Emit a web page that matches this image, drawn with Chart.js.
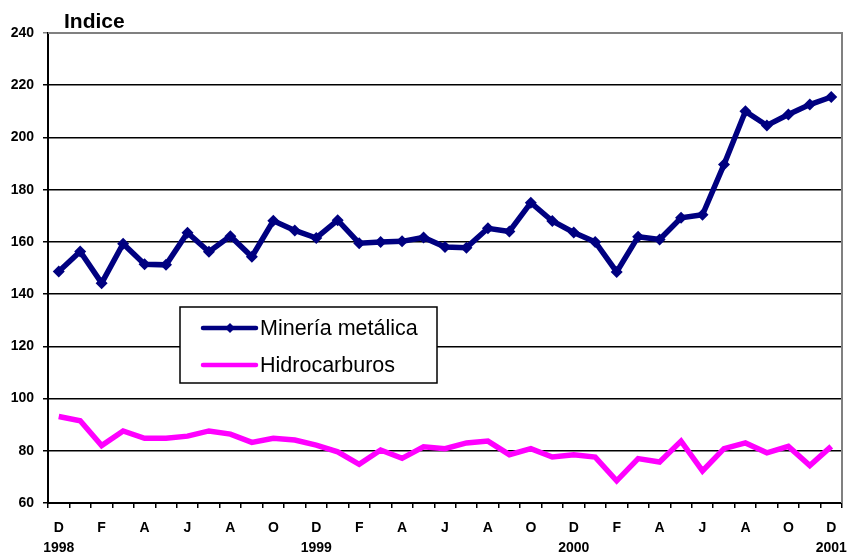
<!DOCTYPE html>
<html>
<head>
<meta charset="utf-8">
<script src="https://cdn.jsdelivr.net/npm/chart.js@4/dist/chart.umd.min.js"></script>
<style>
  html, body { margin: 0; padding: 0; background: #fff; }
  #wrap { width: 848px; height: 554px; position: relative; }
</style>
</head>
<body>
<div id="wrap"><canvas id="grafica"></canvas></div>
<script>
// meses de dic-1997 a dic-2000 (una letra por mes)
const meses = ['D','E','F','M','A','M','J','J','A','S','O','N',
               'D','E','F','M','A','M','J','J','A','S','O','N',
               'D','E','F','M','A','M','J','J','A','S','O','N','D'];
// años debajo de cada diciembre
const anios = { 0: '1998', 12: '1999', 24: '2000', 36: '2001' };

const mineria = [148.7, 156.3, 144.2, 159.3, 151.4, 151.2, 163.5, 156.2, 162.2, 154.3,
                 168.1, 164.4, 161.5, 168.3, 159.5, 160, 160.2, 161.7, 158, 157.8,
                 165.2, 164, 175, 168, 163.6, 160, 148.5, 162, 160.9, 169.2,
                 170.4, 189.6, 210, 204.6, 208.8, 212.6, 215.5];

const hidrocarburos = [93.1, 91.5, 82, 87.6, 84.8, 84.8, 85.6, 87.6, 86.4, 83.2,
                       84.8, 84.1, 82.2, 79.6, 74.8, 80.3, 77.1, 81.5, 80.8, 83,
                       83.7, 78.5, 80.8, 77.6, 78.5, 77.6, 68.5, 77, 75.7, 83.7,
                       72.3, 80.8, 83, 79.2, 81.7, 74.3, 81.7];

const yTicks = [60, 80, 100, 120, 140, 160, 180, 200, 220, 240];

const fuente = "'Liberation Sans', Arial, sans-serif";

// leyenda dibujada dentro del area del grafico
const leyenda = {
    id: 'leyenda',
    afterDraw(chart) {
        const ctx = chart.ctx;
        const x = 180, y = 307, w = 257, h = 76;
        ctx.save();
        ctx.fillStyle = '#fff';
        ctx.fillRect(x, y, w, h);
        ctx.strokeStyle = '#000';
        ctx.lineWidth = 1.5;
        ctx.strokeRect(x, y, w, h);
        ctx.font = '21.5px ' + fuente;
        ctx.textBaseline = 'middle';
        chart.data.datasets.forEach((ds, i) => {
            const ly = y + 21 + i * 37;
            ctx.strokeStyle = ds.borderColor;
            ctx.lineWidth = 4.5;
            ctx.lineCap = 'round';
            ctx.beginPath();
            ctx.moveTo(x + 23, ly);
            ctx.lineTo(x + 76, ly);
            ctx.stroke();
            if (ds.pointRadius > 0) {
                ctx.fillStyle = ds.borderColor;
                ctx.beginPath();
                ctx.moveTo(x + 50, ly - 5);
                ctx.lineTo(x + 55, ly);
                ctx.lineTo(x + 50, ly + 5);
                ctx.lineTo(x + 45, ly);
                ctx.closePath();
                ctx.fill();
            }
            ctx.fillStyle = '#000';
            ctx.fillText(ds.label, x + 80, ly + 1);
        });
        ctx.restore();
    }
};

// titulo y borde gris
const extras = {
    id: 'extras',
    beforeDatasetsDraw(chart) {
        const ctx = chart.ctx;
        const a = chart.chartArea;
        ctx.save();
        ctx.strokeStyle = '#808080';
        ctx.lineWidth = 2;
        ctx.beginPath();
        ctx.moveTo(a.left, a.top);
        ctx.lineTo(a.right, a.top);
        ctx.lineTo(a.right, a.bottom);
        ctx.stroke();
        ctx.restore();
    },
    afterDraw(chart) {
        const ctx = chart.ctx;
        ctx.save();
        ctx.font = 'bold 21px ' + fuente;
        ctx.fillStyle = '#000';
        ctx.textBaseline = 'alphabetic';
        ctx.fillText('Indice', 64, 28);
        ctx.restore();
    }
};

const ctx = document.getElementById('grafica').getContext('2d');
new Chart(ctx, {
    type: 'line',
    data: {
        labels: meses,
        datasets: [{
            label: 'Minería metálica',
            data: mineria,
            borderColor: '#000080',
            backgroundColor: '#000080',
            borderWidth: 5.5,
            pointStyle: 'rectRot',
            pointRadius: 6,
            pointBorderWidth: 0,
            tension: 0
        }, {
            label: 'Hidrocarburos',
            data: hidrocarburos,
            borderColor: '#FF00FF',
            backgroundColor: '#FF00FF',
            borderWidth: 5.5,
            pointRadius: 0,
            tension: 0
        }]
    },
    options: {
        responsive: true,
        maintainAspectRatio: false,
        animation: false,
        layout: { padding: { left: 0, right: 6, top: 33, bottom: 0 } },
        plugins: {
            legend: { display: false },
            tooltip: { enabled: false }
        },
        scales: {
            x: {
                offset: true,
                afterFit: (axis) => {
                    axis.height = 51;
                    axis.paddingRight = 0;
                    axis.paddingLeft = 0;
                },
                grid: {
                    offset: true,
                    drawOnChartArea: false,
                    drawTicks: true,
                    tickLength: 5,
                    color: '#000',
                    lineWidth: 1.5
                },
                border: { color: '#000', width: 2 },
                ticks: {
                    autoSkip: false,
                    maxRotation: 0,
                    padding: 10,
                    color: '#000',
                    font: { family: fuente, size: 14, weight: 'bold', lineHeight: 1.45 },
                    callback: function (val, i) {
                        if (i % 2 !== 0) return '';
                        return anios[i] ? [meses[i], anios[i]] : meses[i];
                    }
                }
            },
            y: {
                min: 60,
                max: 240,
                afterFit: (axis) => { axis.width = 48; },
                afterBuildTicks: (axis) => { axis.ticks = yTicks.map(v => ({ value: v })); },
                grid: {
                    color: (c) => c.tick && c.tick.value === 240 ? '#808080' : '#000',
                    lineWidth: 1.5,
                    tickLength: 5,
                    drawTicks: true
                },
                border: { color: '#000', width: 2 },
                ticks: {
                    padding: 9,
                    color: '#000',
                    font: { family: fuente, size: 14, weight: 'bold' }
                }
            }
        }
    },
    plugins: [extras, leyenda]
});
</script>
</body>
</html>
